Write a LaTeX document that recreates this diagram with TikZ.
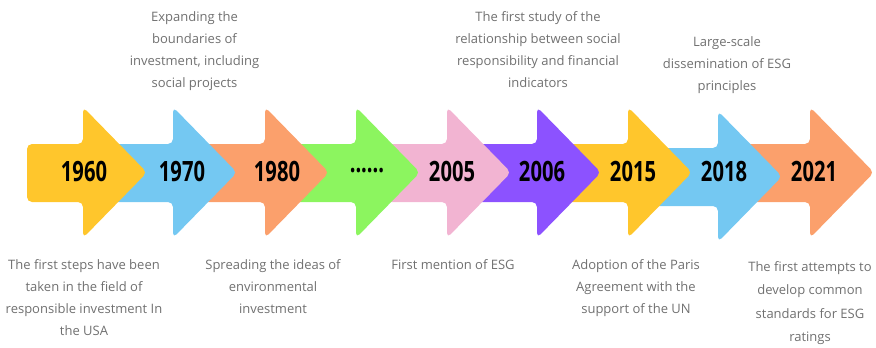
\documentclass[tikz,border=0pt]{standalone}
\usepackage{fontspec}
\usepackage{graphicx}
\setmainfont{Open Sans}
\definecolor{cyellow}{RGB}{255,198,44}
\definecolor{cblue}{RGB}{116,200,242}
\definecolor{corange}{RGB}{251,160,108}
\definecolor{cgreen}{RGB}{140,245,95}
\definecolor{cpink}{RGB}{242,180,210}
\definecolor{cpurple}{RGB}{140,82,255}
\definecolor{ctext}{RGB}{112,112,112}
\newcommand{\esgarrow}[4]{%
  \fill[rounded corners=5pt,#3] (#1-#4,144+#2) -- (#1,144+#2) -- (#1,107+#2) -- (#1+64,172.5+#2) -- (#1,238+#2) -- (#1,202+#2) -- (#1-#4,202+#2) -- cycle;}
\begin{document}
\begin{tikzpicture}[x=1pt,y=-1pt,
  year/.style={font=\fontsize{28}{30}\selectfont\bfseries, text=black, inner sep=0pt, xscale=0.72},
  desc/.style={font=\fontsize{13}{22}\selectfont, text=ctext, align=center, inner sep=0pt, anchor=north}]
\useasboundingbox (0,0) rectangle (876,348);
\esgarrow{810}{0}{corange}{75}
\esgarrow{718}{4}{cblue}{75}
\esgarrow{628}{0}{cyellow}{75}
\esgarrow{537}{0}{cpurple}{75}
\esgarrow{447}{0}{cpink}{75}
\esgarrow{356}{0}{cgreen}{75}
\esgarrow{265}{0}{corange}{75}
\esgarrow{173}{0}{cblue}{75}
\esgarrow{83}{0}{cyellow}{56}
\node[year] (y1960) at (84,171) {1960};
\node[year] (y1970) at (182,171) {1970};
\node[year] (y1980) at (277,171) {1980};
\node[year] (ydots) at (367,171) {......};
\node[year] (y2005) at (452,171) {2005};
\node[year] (y2006) at (542,171) {2006};
\node[year] (y2015) at (633,171) {2015};
\node[year] (y2018) at (724,171) {2018};
\node[year] (y2021) at (814,171) {2021};
\node[desc] (d1970) at (194.5,11) {Expanding the\\boundaries of\\investment, including\\social projects};
\node[desc] (d2006) at (538,11) {The first study of the\\relationship between social\\responsibility and financial\\indicators};
\node[desc] (d2018) at (727,36) {Large-scale\\dissemination of ESG\\principles};
\node[desc] (d1960) at (84,259) {The first steps have been\\taken in the field of\\responsible investment In\\the USA};
\node[desc] (d1980) at (273,259) {Spreading the ideas of\\environmental\\investment};
\node[desc] (d2005) at (453,259) {First mention of ESG};
\node[desc] (d2015) at (636,259) {Adoption of the Paris\\Agreement with the\\support of the UN};
\node[desc, font=\fontsize{13}{23.5}\selectfont] (d2021) at (810,261) {The first attempts to\\develop common\\standards for ESG\\ratings};
\end{tikzpicture}
\end{document}
